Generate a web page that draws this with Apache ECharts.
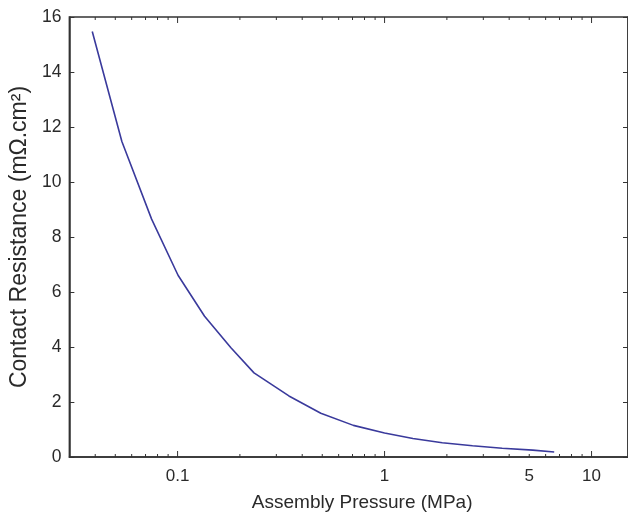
<!DOCTYPE html>
<html>
<head>
<meta charset="utf-8">
<script src="https://cdn.jsdelivr.net/npm/echarts@6/dist/echarts.min.js"></script>
<style>
  html, body { margin: 0; padding: 0; background: #fff; }
  #chart { width: 628px; height: 517px; }
</style>
</head>
<body>
<div id="chart"></div>
<script>
// pressure (MPa) vs contact resistance (mOhm.cm2)
var pressure   = [0.0387, 0.0538, 0.0749, 0.1005, 0.135, 0.181, 0.234, 0.345, 0.492, 0.707, 1.0, 1.37, 1.9, 2.66, 3.7, 5.2, 6.6];
var resistance = [15.47, 11.47, 8.65, 6.61, 5.12, 3.97, 3.06, 2.22, 1.59, 1.15, 0.87, 0.67, 0.52, 0.41, 0.32, 0.25, 0.18];

var xTicks = [0.04, 0.05, 0.06, 0.07, 0.08, 0.09, 0.1,
              0.2, 0.3, 0.4, 0.5, 0.6, 0.7, 0.8, 0.9, 1,
              2, 3, 4, 5, 6, 7, 8, 9, 10];
var xLabelVals = [0.1, 1, 5, 10];
var xLabelText = ['0.1', '1', '5', '10'];

var yMin = 0, yMax = 16, yStep = 2;

var axisColor = '#333';
var textColor = '#2a2a2a';
var font = 'Liberation Sans, Arial, sans-serif';

var chart = echarts.init(document.getElementById('chart'));

var lineData = pressure.map(function (p, i) { return [p, resistance[i]]; });

chart.setOption({
  animation: false,
  grid: {
    left: 68, right: -5, top: 17, bottom: 57,
    show: true, borderColor: axisColor, borderWidth: 1.5
  },
  xAxis: {
    type: 'log',
    min: 0.03,
    max: 15,
    name: 'Assembly Pressure (MPa)',
    nameLocation: 'middle',
    nameGap: 36,
    nameTextStyle: { fontSize: 19, color: textColor, fontFamily: font, padding: [0, 0, 0, 27] },
    axisLine: { lineStyle: { color: axisColor, width: 1.5 } },
    axisTick: { show: false },
    axisLabel: { show: false },
    splitLine: { show: false }
  },
  yAxis: [{
    type: 'value',
    min: yMin, max: yMax, interval: yStep,
    name: 'Contact Resistance (mΩ.cm²)',
    nameLocation: 'middle',
    nameGap: 35,
    nameTextStyle: { fontSize: 23, color: textColor, fontFamily: font },
    axisLine: { show: true, lineStyle: { color: axisColor, width: 1.5 } },
    axisTick: { show: true, inside: true, length: 5, lineStyle: { color: axisColor } },
    axisLabel: { fontSize: 17.5, color: textColor, fontFamily: font, margin: 8 },
    splitLine: { show: false }
  }, {
    type: 'value',
    position: 'right',
    min: yMin, max: yMax, interval: yStep,
    axisLine: { show: true, lineStyle: { color: axisColor, width: 1.5 } },
    axisTick: { show: true, inside: true, length: 5, lineStyle: { color: axisColor } },
    axisLabel: { show: false },
    splitLine: { show: false }
  }],
  series: [
    {
      // log-axis tick marks, bottom and top frame
      type: 'custom',
      clip: false,
      silent: true,
      data: xTicks.map(function (v) { return [v]; }),
      renderItem: function (params, api) {
        var v = api.value(0);
        var b = api.coord([v, yMin]);
        var t = api.coord([v, yMax]);
        var major = Math.abs(Math.log10(v) - Math.round(Math.log10(v))) < 1e-9;
        var len = major ? 6 : 3;
        var st = { stroke: axisColor, lineWidth: 1 };
        return {
          type: 'group',
          children: [
            { type: 'line', shape: { x1: b[0], y1: b[1], x2: b[0], y2: b[1] - len }, style: st },
            { type: 'line', shape: { x1: t[0], y1: t[1], x2: t[0], y2: t[1] + len }, style: st }
          ]
        };
      }
    },
    {
      // tick labels (incl. the extra "5")
      type: 'custom',
      clip: false,
      silent: true,
      data: xLabelVals.map(function (v, i) { return [v, i]; }),
      renderItem: function (params, api) {
        var p = api.coord([api.value(0), yMin]);
        return {
          type: 'text',
          x: p[0], y: p[1] + 11,
          style: {
            text: xLabelText[api.value(1)],
            fill: textColor,
            font: '17px ' + font,
            align: 'center',
            verticalAlign: 'top'
          }
        };
      }
    },
    {
      type: 'line',
      data: lineData,
      showSymbol: false,
      smooth: false,
      lineStyle: { color: '#3a3a9c', width: 1.6 }
    }
  ]
});
</script>
</body>
</html>
